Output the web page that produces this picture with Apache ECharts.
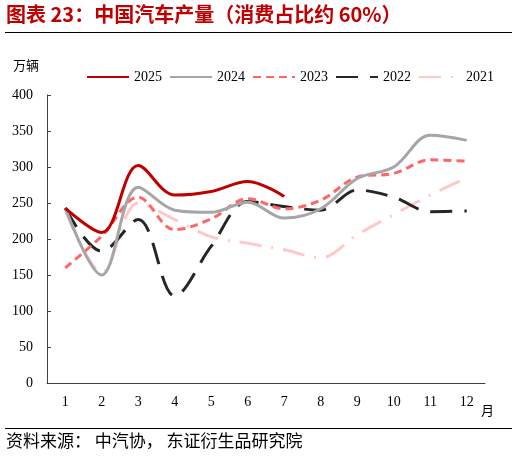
<!DOCTYPE html>
<html>
<head>
<meta charset="utf-8">
<script src="https://cdn.jsdelivr.net/npm/echarts@6/dist/echarts.min.js"></script>
<style>
html,body{margin:0;padding:0;background:#fff;}
#c{width:517px;height:460px;}
</style>
</head>
<body>
<div id="c"></div>
<script>
var months = ['1','2','3','4','5','6','7','8','9','10','11','12'];
var yTicks = [0, 50, 100, 150, 200, 250, 300, 350, 400];
var s2025 = [243, 209, 302, 261, 266, 280, 259];
var s2024 = [243, 150, 272, 240, 237, 251, 229, 242, 284, 300, 344, 337];
var s2023 = [160, 204, 258, 213, 228, 256, 242, 254, 286, 291, 310, 308];
var s2022 = [243, 183, 227, 121, 190, 252, 245, 240, 268, 258, 238, 239];
var s2021 = [240, 154, 250, 227, 203, 194, 185, 174, 206, 234, 261, 285];

var serif = "'Liberation Serif','DejaVu Serif',serif";
var cjk = "'Noto Sans CJK SC',sans-serif";

var chart = echarts.init(document.getElementById('c'), null, {renderer: 'canvas'});

function mk(name, data, color, type) {
  return {
    name: name, type: 'line', data: data, smooth: 0.35,
    symbol: 'none', showSymbol: false,
    lineStyle: {color: color, width: 3, type: type, cap: 'butt'},
    itemStyle: {color: color},
    emphasis: {disabled: true}
  };
}

chart.setOption({
  animation: false,
  backgroundColor: '#fff',
  grid: {left: 47, right: 32, top: 95, bottom: 77},
  legend: {
    left: 81, top: 65, itemWidth: 42, itemHeight: 10, itemGap: 7,
    itemStyle: {color: 'transparent', borderColor: 'transparent', borderWidth: 0, opacity: 0},
    textStyle: {fontFamily: serif, fontSize: 14, color: '#000'},
    data: ['2025', '2024', '2023', '2022', '2021']
  },
  xAxis: {
    type: 'category', data: months, boundaryGap: true,
    axisLine: {lineStyle: {color: '#404040', width: 1}},
    axisTick: {inside: true, length: 4, lineStyle: {color: '#404040'}},
    axisLabel: {fontFamily: serif, fontSize: 14, color: '#000', margin: 12}
  },
  yAxis: {
    type: 'value', min: yTicks[0], max: yTicks[yTicks.length - 1], interval: 50,
    axisLine: {show: true, lineStyle: {color: '#404040', width: 1}},
    axisTick: {show: true, inside: true, length: 4, lineStyle: {color: '#404040'}},
    splitLine: {show: false},
    axisLabel: {fontFamily: serif, fontSize: 14, color: '#000', margin: 14}
  },
  series: [
    mk('2021', s2021, '#FFC9C9', [22, 10, 2, 10]),
    mk('2022', s2022, '#262626', [22, 12]),
    mk('2023', s2023, '#FF6666', [8, 5]),
    mk('2024', s2024, '#A6A6A6', 'solid'),
    mk('2025', s2025, '#C00000', 'solid')
  ],
  graphic: [
    {type: 'text', left: 6, top: 4, style: {text: '图表 23：中国汽车产量（消费占比约 60%）', fill: '#C00000', font: 'bold 20px ' + cjk}},
    {type: 'line', shape: {x1: 5, y1: 32.5, x2: 512, y2: 32.5}, style: {stroke: '#000', lineWidth: 1}},
    {type: 'text', left: 13, top: 59, style: {text: '万辆', fill: '#000', font: '13px ' + cjk}},
    {type: 'text', left: 481, top: 404, style: {text: '月', fill: '#000', font: '13px ' + cjk}},
    {type: 'line', shape: {x1: 5, y1: 428.5, x2: 512, y2: 428.5}, style: {stroke: '#000', lineWidth: 1}},
    {type: 'text', left: 6, top: 432, style: {text: '资料来源： 中汽协， 东证衍生品研究院', fill: '#000', font: '17px ' + cjk}}
  ]
});
</script>
</body>
</html>
